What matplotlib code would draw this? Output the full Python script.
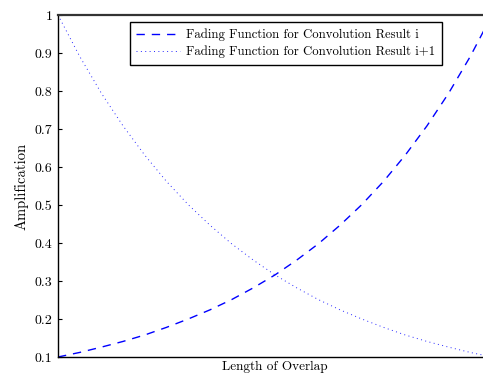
import matplotlib
matplotlib.use('Agg')
import matplotlib.pyplot as plt

# overlap position (normalised) and the two fading curves
overlap = [0.00, 0.05, 0.10, 0.15, 0.20, 0.25, 0.30, 0.35, 0.40, 0.45, 0.50,
           0.55, 0.60, 0.65, 0.70, 0.75, 0.80, 0.85, 0.90, 0.95, 1.00]
fade_i = [0.100, 0.112, 0.126, 0.141, 0.158, 0.178, 0.200, 0.224, 0.251, 0.282, 0.316,
          0.355, 0.398, 0.447, 0.501, 0.562, 0.631, 0.708, 0.794, 0.891, 1.000]
fade_i1 = [1.000, 0.891, 0.794, 0.708, 0.631, 0.562, 0.501, 0.447, 0.398, 0.355, 0.316,
           0.282, 0.251, 0.224, 0.200, 0.178, 0.158, 0.141, 0.126, 0.112, 0.100]
yticks = [0.1, 0.2, 0.3, 0.4, 0.5, 0.6, 0.7, 0.8, 0.9, 1]
ytick_labels = ['0.1', '0.2', '0.3', '0.4', '0.5', '0.6', '0.7', '0.8', '0.9', '1']

plt.rcParams['font.family'] = ['cmr10', 'DejaVu Serif']
plt.rcParams['axes.formatter.use_mathtext'] = True

fig = plt.figure(figsize=(4.83, 3.79), dpi=100)
ax = fig.add_axes([58 / 483, 22 / 379, 434 / 483, 342 / 379])

ax.plot(overlap, fade_i, color='blue', linestyle=(0, (6, 5)), linewidth=1.0,
        label='Fading Function for Convolution Result i')
ax.plot(overlap, fade_i1, color='blue', linestyle=(0, (1, 3.5)), linewidth=0.7,
        alpha=0.85, label='Fading Function for Convolution Result i+1')

ax.set_xlim(0, 1)
ax.set_ylim(0.1, 1)
ax.set_xticks([])
ax.set_yticks(yticks)
ax.set_yticklabels(ytick_labels)
ax.tick_params(axis='y', direction='in', length=3, labelsize=10, pad=4)
ax.set_xlabel('Length of Overlap', fontsize=9.5, labelpad=3)
ax.set_ylabel('Amplification', fontsize=10.5, labelpad=4)

for s in ['left', 'bottom']:
    ax.spines[s].set_linewidth(1.0)
ax.spines['top'].set_linewidth(1.6)
ax.spines['top'].set_color('#333333')

leg = ax.legend(loc='upper left', bbox_to_anchor=(72 / 434, 1 - 7 / 342),
                borderaxespad=0, fontsize=9.2, handlelength=3.4,
                borderpad=0.5, labelspacing=0.38, handletextpad=0.5,
                fancybox=False, framealpha=1)
leg.get_frame().set_edgecolor('black')
leg.get_frame().set_linewidth(1.0)

fig.savefig('out.png', dpi=100)
